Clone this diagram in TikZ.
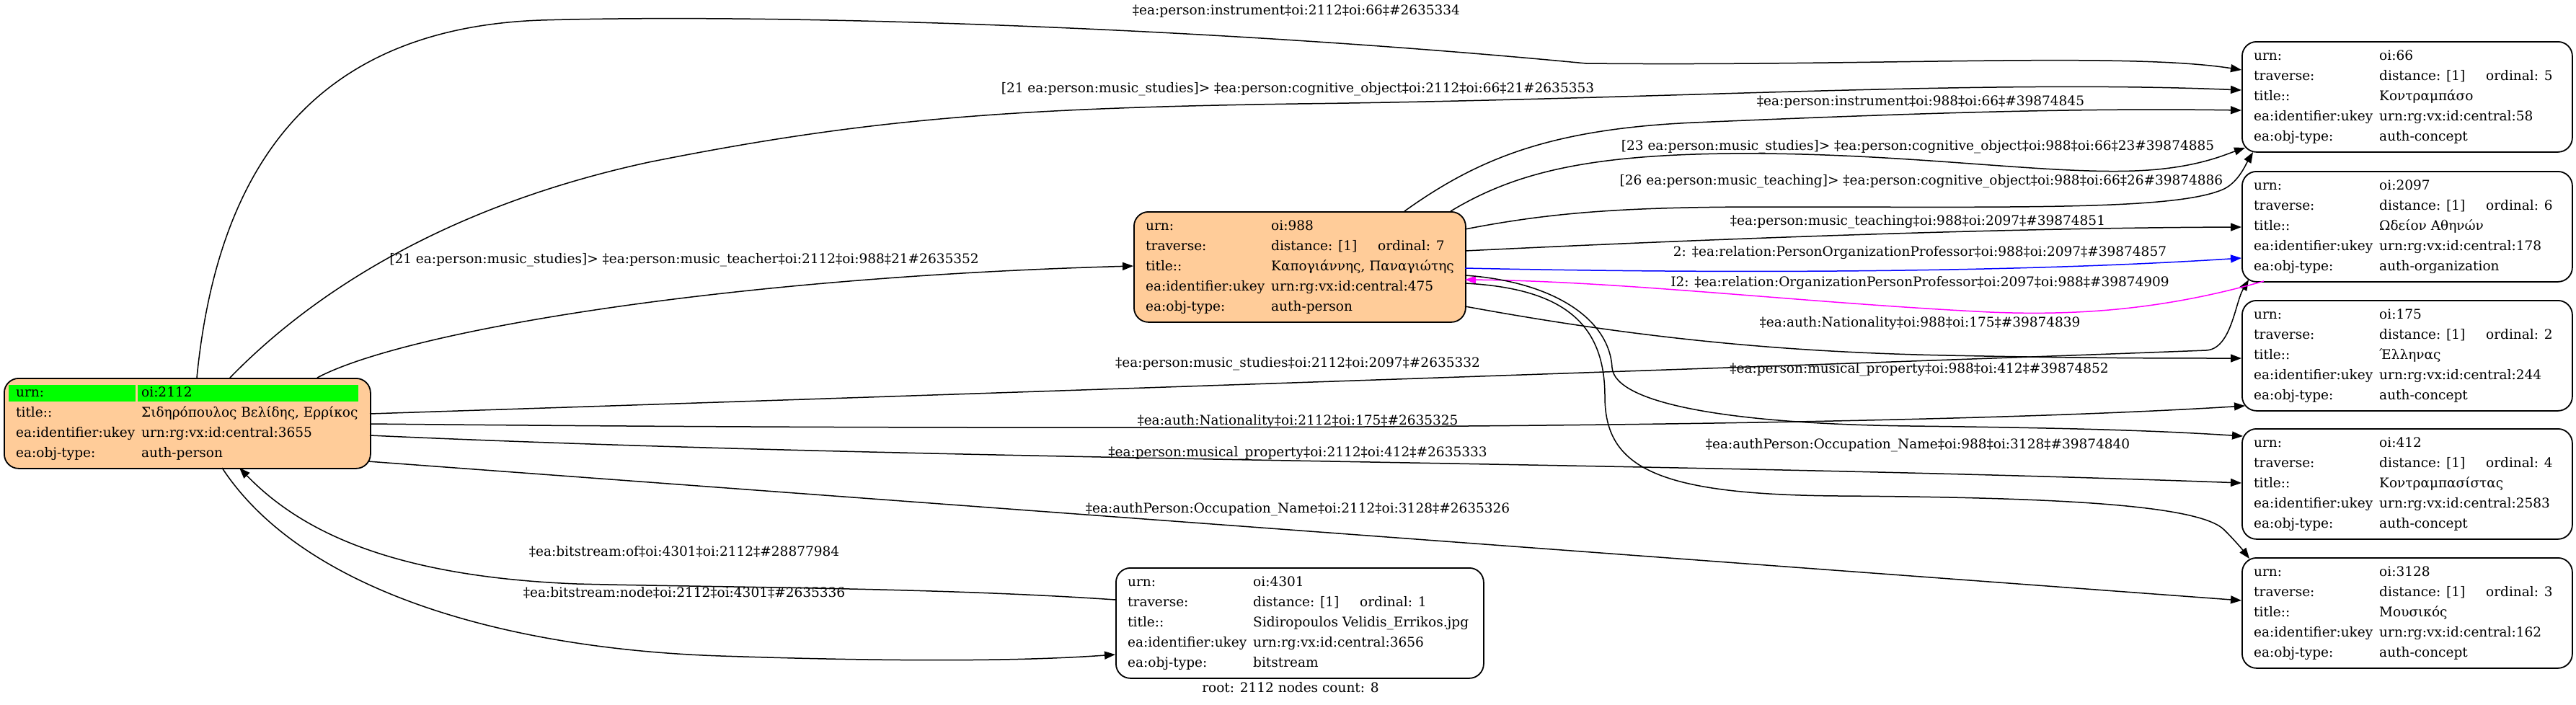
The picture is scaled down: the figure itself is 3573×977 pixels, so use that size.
\documentclass[tikz,border=0pt]{standalone}
\usepackage{fontspec}
\setmainfont{DejaVu Serif}
\usetikzlibrary{calc,arrows.meta}
\definecolor{peach}{HTML}{FFCC99}
\definecolor{hlgreen}{HTML}{00FF00}
\definecolor{relblue}{HTML}{0000FF}
\definecolor{relmag}{HTML}{FF00FF}
\newcommand\cardfont{\fontsize{18.5}{22}\selectfont}
\newcommand\cardrow[4]{%
  \node[txt] (#1-l#2) at ($(#1.north west)+(17,{21+28*#2})$) {#3};
  \node[txt] (#1-v#2) at ($(#1.north west)+(191,{21+28*#2})$) {#4};}
\newcommand\cardord[2]{\node[txt] (#1-o) at ($(#1.north west)+(339,49)$) {ordinal: #2};}
\begin{document}
\begin{tikzpicture}[x=1pt,y=-1pt,
  card/.style={draw=black, line width=1.8pt, rounded corners=20pt, anchor=north west, inner sep=0pt, minimum height=153pt},
  txt/.style={anchor=west, inner sep=0pt, font=\cardfont, text height=14pt, text depth=4pt},
  lbl/.style={inner sep=0pt, font=\cardfont, text height=14pt, text depth=4pt},
  conn/.style={line width=1.5pt, -{Triangle[length=15pt,width=11pt]}},
]
\useasboundingbox (0,0) rectangle (3573,977);

% ---------- cards ----------
\node[card, fill=peach, minimum width=508pt, minimum height=125pt] (n2112) at (5,524) {};
\fill[hlgreen] ($(n2112.north west)+(7,10)$) rectangle ($(n2112.north west)+(183,33)$);
\fill[hlgreen] ($(n2112.north west)+(186,10)$) rectangle ($(n2112.north west)+(492,33)$);
\cardrow{n2112}{0}{urn:}{oi:2112}
\cardrow{n2112}{1}{title::}{Σιδηρόπουλος Βελίδης, Ερρίκος}
\cardrow{n2112}{2}{ea:identifier:ukey}{urn:rg:vx:id:central:3655}
\cardrow{n2112}{3}{ea:obj-type:}{auth-person}

\node[card, fill=peach, minimum width=460pt] (n988) at (1572,293) {};
\cardrow{n988}{0}{urn:}{oi:988}
\cardrow{n988}{1}{traverse:}{distance: [1]}
\cardord{n988}{7}
\cardrow{n988}{2}{title::}{Καπογιάννης, Παναγιώτης}
\cardrow{n988}{3}{ea:identifier:ukey}{urn:rg:vx:id:central:475}
\cardrow{n988}{4}{ea:obj-type:}{auth-person}

\node[card, minimum width=510pt] (n4301) at (1547,787) {};
\cardrow{n4301}{0}{urn:}{oi:4301}
\cardrow{n4301}{1}{traverse:}{distance: [1]}
\cardord{n4301}{1}
\cardrow{n4301}{2}{title::}{Sidiropoulos Velidis\_Errikos.jpg}
\cardrow{n4301}{3}{ea:identifier:ukey}{urn:rg:vx:id:central:3656}
\cardrow{n4301}{4}{ea:obj-type:}{bitstream}

\node[card, minimum width=458pt] (n66) at (3109,57) {};
\cardrow{n66}{0}{urn:}{oi:66}
\cardrow{n66}{1}{traverse:}{distance: [1]}
\cardord{n66}{5}
\cardrow{n66}{2}{title::}{Κοντραμπάσο}
\cardrow{n66}{3}{ea:identifier:ukey}{urn:rg:vx:id:central:58}
\cardrow{n66}{4}{ea:obj-type:}{auth-concept}

\node[card, minimum width=458pt] (n2097) at (3109,237) {};
\cardrow{n2097}{0}{urn:}{oi:2097}
\cardrow{n2097}{1}{traverse:}{distance: [1]}
\cardord{n2097}{6}
\cardrow{n2097}{2}{title::}{Ωδείον Αθηνών}
\cardrow{n2097}{3}{ea:identifier:ukey}{urn:rg:vx:id:central:178}
\cardrow{n2097}{4}{ea:obj-type:}{auth-organization}

\node[card, minimum width=458pt] (n175) at (3109,416) {};
\cardrow{n175}{0}{urn:}{oi:175}
\cardrow{n175}{1}{traverse:}{distance: [1]}
\cardord{n175}{2}
\cardrow{n175}{2}{title::}{Έλληνας}
\cardrow{n175}{3}{ea:identifier:ukey}{urn:rg:vx:id:central:244}
\cardrow{n175}{4}{ea:obj-type:}{auth-concept}

\node[card, minimum width=458pt] (n412) at (3109,594) {};
\cardrow{n412}{0}{urn:}{oi:412}
\cardrow{n412}{1}{traverse:}{distance: [1]}
\cardord{n412}{4}
\cardrow{n412}{2}{title::}{Κοντραμπασίστας}
\cardrow{n412}{3}{ea:identifier:ukey}{urn:rg:vx:id:central:2583}
\cardrow{n412}{4}{ea:obj-type:}{auth-concept}

\node[card, minimum width=458pt] (n3128) at (3109,773) {};
\cardrow{n3128}{0}{urn:}{oi:3128}
\cardrow{n3128}{1}{traverse:}{distance: [1]}
\cardord{n3128}{3}
\cardrow{n3128}{2}{title::}{Μουσικός}
\cardrow{n3128}{3}{ea:identifier:ukey}{urn:rg:vx:id:central:162}
\cardrow{n3128}{4}{ea:obj-type:}{auth-concept}

\node[lbl] (root) at (1790,955) {root: 2112 nodes count: 8};

% ---------- edges from 2112 ----------
\draw[conn] ($(n2112.north west)+(268,0)$) .. controls (300,250) and (420,40) .. (750,28)
  .. controls (1100,18) and (1700,40) .. (2200,88) .. controls (2600,92) and (2950,72) .. ($(n66.north west)+(0,40)$);
\node[lbl] (e1) at (1798,15) {‡ea:person:instrument‡oi:2112‡oi:66‡\#2635334};

\draw[conn] ($(n2112.north west)+(314,0)$) .. controls (420,420) and (600,290) .. (900,225)
  .. controls (1200,165) and (1400,150) .. (1800,144) .. controls (2300,138) and (2750,110) .. ($(n66.north west)+(0,68)$);
\node[lbl] (e2) at (1800,123) {[21 ea:person:music\_studies]> ‡ea:person:cognitive\_object‡oi:2112‡oi:66‡21\#2635353};

\draw[conn] ($(n2112.north west)+(435,0)$) .. controls (560,460) and (1000,385) .. ($(n988.north west)+(0,76)$);
\node[lbl] (e3) at (949,360) {[21 ea:person:music\_studies]> ‡ea:person:music\_teacher‡oi:2112‡oi:988‡21\#2635352};

\draw[conn] ($(n2112.north west)+(508,50)$) .. controls (1400,545) and (2700,500) .. (3060,486)
  .. controls (3095,484) and (3100,420) .. ($(n2097.north west)+(10,151)$);
\node[lbl] (e4) at (1800,504) {‡ea:person:music\_studies‡oi:2112‡oi:2097‡\#2635332};

\draw[conn] ($(n2112.north west)+(508,64)$) .. controls (1500,598) and (2600,595) .. ($(n175.north west)+(5,147)$);
\node[lbl] (e5) at (1800,584) {‡ea:auth:Nationality‡oi:2112‡oi:175‡\#2635325};

\draw[conn] ($(n2112.north west)+(508,80)$) .. controls (1300,640) and (2300,640) .. ($(n412.north west)+(0,76)$);
\node[lbl] (e6) at (1800,628) {‡ea:person:musical\_property‡oi:2112‡oi:412‡\#2635333};

\draw[conn] ($(n2112.north west)+(505,116)$) -- ($(n3128.north west)+(0,60)$);
\node[lbl] (e7) at (1800,706) {‡ea:authPerson:Occupation\_Name‡oi:2112‡oi:3128‡\#2635326};

\draw[conn] ($(n4301.north west)+(0,45)$) .. controls (1300,815) and (1000,815) .. (800,810)
  .. controls (550,800) and (420,740) .. ($(n2112.north west)+(327,125)$);
\node[lbl] (e8) at (949,766) {‡ea:bitstream:of‡oi:4301‡oi:2112‡\#28877984};

\draw[conn] ($(n2112.north west)+(303,125)$) .. controls (420,820) and (700,900) .. (1000,910)
  .. controls (1300,920) and (1450,915) .. ($(n4301.north west)+(0,121)$);
\node[lbl] (e9) at (949,823) {‡ea:bitstream:node‡oi:2112‡oi:4301‡\#2635336};

% ---------- edges from 988 ----------
\draw[conn] ($(n988.north west)+(376,0)$) .. controls (2050,220) and (2150,179) .. (2350,170)
  .. controls (2700,155) and (2900,150) .. ($(n66.north west)+(0,96)$);
\node[lbl] (f1) at (2664,141) {‡ea:person:instrument‡oi:988‡oi:66‡\#39874845};

\draw[conn] ($(n988.north west)+(440,0)$) .. controls (2100,240) and (2200,215) .. (2400,213)
  .. controls (2650,211) and (2850,245) .. (2980,236) .. controls (3050,231) and (3085,215) .. ($(n66.north west)+(5,148)$);
\node[lbl] (f2) at (2660,203) {[23 ea:person:music\_studies]> ‡ea:person:cognitive\_object‡oi:988‡oi:66‡23\#39874885};

\draw[conn] ($(n988.north west)+(460,25)$) .. controls (2150,295) and (2250,287) .. (2450,287)
  .. controls (2800,287) and (3020,292) .. (3085,262) .. controls (3105,252) and (3115,228) .. ($(n66.north west)+(16,154)$);
\node[lbl] (f3) at (2665,251) {[26 ea:person:music\_teaching]> ‡ea:person:cognitive\_object‡oi:988‡oi:66‡26\#39874886};

\draw[conn] ($(n988.north west)+(460,55)$) .. controls (2400,330) and (2800,316) .. ($(n2097.north west)+(0,78)$);
\node[lbl] (f4) at (2660,307) {‡ea:person:music\_teaching‡oi:988‡oi:2097‡\#39874851};

\draw[conn, relblue] ($(n988.north west)+(460,79)$) .. controls (2400,380) and (2800,378) .. ($(n2097.north west)+(0,121)$);
\node[lbl] (f5) at (2663,350) {2: ‡ea:relation:PersonOrganizationProfessor‡oi:988‡oi:2097‡\#39874857};

\draw[conn, relmag] ($(n2097.north west)+(31,153)$) .. controls (3000,430) and (2880,438) .. (2760,433)
  .. controls (2500,420) and (2250,390) .. ($(n988.north west)+(460,95)$);
\node[lbl] (f6) at (2663,392) {I2: ‡ea:relation:OrganizationPersonProfessor‡oi:2097‡oi:988‡\#39874909};

\draw[conn] ($(n988.north west)+(460,132)$) .. controls (2250,465) and (2450,488) .. (2700,493)
  .. controls (2900,497) and (3000,497) .. ($(n175.north west)+(0,81)$);
\node[lbl] (f7) at (2663,448) {‡ea:auth:Nationality‡oi:988‡oi:175‡\#39874839};

\draw[conn] ($(n988.north west)+(460,89)$) .. controls (2150,390) and (2232,440) .. (2236,510)
  .. controls (2240,560) and (2400,588) .. (2650,591) .. controls (2900,594) and (3000,598) .. ($(n412.north west)+(2,11)$);
\node[lbl] (f8) at (2662,512) {‡ea:person:musical\_property‡oi:988‡oi:412‡\#39874852};

\draw[conn] ($(n988.north west)+(460,100)$) .. controls (2170,400) and (2226,450) .. (2226,550)
  .. controls (2226,650) and (2300,686) .. (2550,688) .. controls (2850,690) and (3050,700) .. (3085,735)
  .. controls (3100,750) and (3110,762) .. ($(n3128.north west)+(11,2)$);
\node[lbl] (f9) at (2660,617) {‡ea:authPerson:Occupation\_Name‡oi:988‡oi:3128‡\#39874840};
\end{tikzpicture}
\end{document}
